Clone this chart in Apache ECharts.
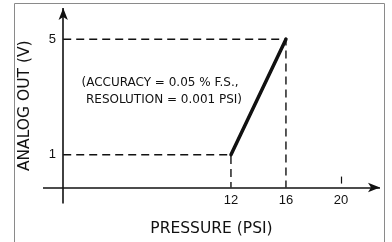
<!DOCTYPE html>
<html>
<head>
<meta charset="utf-8">
<script src="https://cdn.jsdelivr.net/npm/echarts@6/dist/echarts.min.js"></script>
<style>
  html, body { margin: 0; padding: 0; background: #fff; }
  #chart { width: 392px; height: 242px; }
</style>
</head>
<body>
<div id="chart"></div>
<script>
// Data
const xTickValues = [12, 16, 20];
const yTickValues = [1, 5];
const xTickMarks = [20];
const responseLine = [[12, 1], [16, 5]];
const guideHigh = [[-0.2, 5], [16, 5], [16, -0.135]];
const guideLow = [[-0.2, 1], [12, 1], [12, -0.135]];
const xAxisExtent = [-1.67, 22.84];
const yAxisExtent = [-0.69, 6.08];
const axisCross = [-0.2, -0.135];
const noteLines = ['(ACCURACY = 0.05 % F.S.,', 'RESOLUTION = 0.001 PSI)'];

const ink = '#111';
const chart = echarts.init(document.getElementById('chart'));

const option = {
  backgroundColor: '#fff',
  animation: false,
  grid: { left: 43, top: 8, width: 337, height: 200 },
  xAxis: {
    type: 'value',
    min: xAxisExtent[0],
    max: xAxisExtent[1],
    offset: -16.5,
    axisLine: { show: false },
    splitLine: { show: false },
    axisTick: {
      show: true, inside: true, length: 7,
      customValues: xTickMarks,
      lineStyle: { color: ink, width: 1.2 }
    },
    axisLabel: {
      customValues: xTickValues,
      margin: 7,
      color: ink,
      fontFamily: 'Liberation Sans',
      fontSize: 13
    },
    name: 'PRESSURE (PSI)',
    nameLocation: 'middle',
    nameGap: 34,
    nameTextStyle: { color: ink, fontFamily: 'DejaVu Sans', fontSize: 15.5 }
  },
  yAxis: {
    type: 'value',
    min: yAxisExtent[0],
    max: yAxisExtent[1],
    offset: -20,
    axisLine: { show: false },
    splitLine: { show: false },
    axisTick: { show: false },
    axisLabel: {
      customValues: yTickValues,
      margin: 7,
      color: ink,
      fontFamily: 'Liberation Sans',
      fontSize: 13
    },
    name: 'ANALOG OUT (V)',
    nameLocation: 'middle',
    nameGap: 30,
    nameTextStyle: { color: ink, fontFamily: 'DejaVu Sans', fontSize: 15.5 }
  },
  graphic: [
    {
      type: 'rect',
      shape: { x: 14.5, y: 3.5, width: 370, height: 250 },
      style: { fill: 'none', stroke: '#8a8a8a', lineWidth: 1 },
      silent: true
    },
    {
      type: 'text', x: 160, y: 83,
      style: {
        text: noteLines[0], fill: ink, align: 'center', verticalAlign: 'middle',
        font: '12px "DejaVu Sans"'
      }
    },
    {
      type: 'text', x: 164, y: 100,
      style: {
        text: noteLines[1], fill: ink, align: 'center', verticalAlign: 'middle',
        font: '12px "DejaVu Sans"'
      }
    }
  ],
  series: [
    {
      type: 'line',
      data: guideHigh,
      symbol: 'none',
      lineStyle: { color: ink, width: 1.4, type: [8, 5] },
      z: 2
    },
    {
      type: 'line',
      data: guideLow,
      symbol: 'none',
      lineStyle: { color: ink, width: 1.4, type: [8, 5] },
      z: 2
    },
    {
      type: 'line',
      data: responseLine,
      symbol: 'none',
      lineStyle: { color: ink, width: 3.5, cap: 'round' },
      z: 4
    },
    {
      // the two arrowed axes
      type: 'line',
      data: [],
      markLine: {
        silent: true,
        symbol: ['none', 'arrow'],
        symbolSize: [7, 12],
        label: { show: false },
        lineStyle: { color: ink, width: 1.6, type: 'solid' },
        data: [
          [{ coord: [xAxisExtent[0], axisCross[1]] }, { coord: [xAxisExtent[1], axisCross[1]] }],
          [{ coord: [axisCross[0], yAxisExtent[0]] }, { coord: [axisCross[0], yAxisExtent[1]] }]
        ]
      },
      z: 3
    }
  ]
};

chart.setOption(option);
</script>
</body>
</html>
